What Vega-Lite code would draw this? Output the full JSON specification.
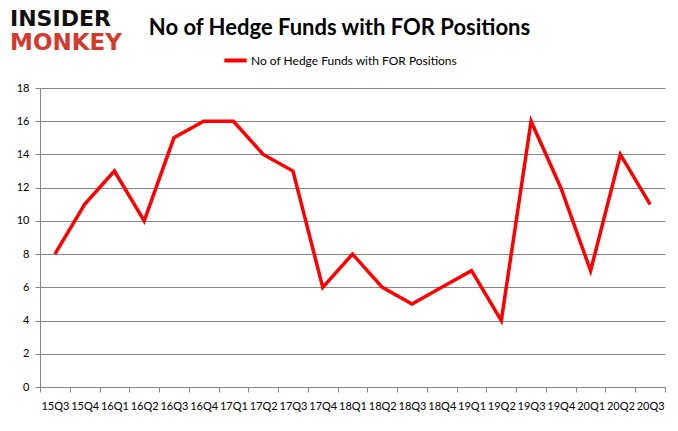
{
  "$schema": "https://vega.github.io/schema/vega-lite/v6.json",
  "autosize": "none",
  "width": 625,
  "height": 299,
  "padding": {"left": 40, "top": 88, "right": 13, "bottom": 44},
  "background": "white",
  "title": {
    "text": "No of Hedge Funds with FOR Positions",
    "font": "Lato",
    "fontSize": 22,
    "fontWeight": "bold",
    "color": "#000000",
    "anchor": "middle",
    "frame": "group",
    "dx": -13,
    "offset": -32
  },
  "data": {
    "values": [
      {"q": "15Q3", "v": 8, "s": "No of Hedge Funds with FOR Positions"},
      {"q": "15Q4", "v": 11, "s": "No of Hedge Funds with FOR Positions"},
      {"q": "16Q1", "v": 13, "s": "No of Hedge Funds with FOR Positions"},
      {"q": "16Q2", "v": 10, "s": "No of Hedge Funds with FOR Positions"},
      {"q": "16Q3", "v": 15, "s": "No of Hedge Funds with FOR Positions"},
      {"q": "16Q4", "v": 16, "s": "No of Hedge Funds with FOR Positions"},
      {"q": "17Q1", "v": 16, "s": "No of Hedge Funds with FOR Positions"},
      {"q": "17Q2", "v": 14, "s": "No of Hedge Funds with FOR Positions"},
      {"q": "17Q3", "v": 13, "s": "No of Hedge Funds with FOR Positions"},
      {"q": "17Q4", "v": 6, "s": "No of Hedge Funds with FOR Positions"},
      {"q": "18Q1", "v": 8, "s": "No of Hedge Funds with FOR Positions"},
      {"q": "18Q2", "v": 6, "s": "No of Hedge Funds with FOR Positions"},
      {"q": "18Q3", "v": 5, "s": "No of Hedge Funds with FOR Positions"},
      {"q": "18Q4", "v": 6, "s": "No of Hedge Funds with FOR Positions"},
      {"q": "19Q1", "v": 7, "s": "No of Hedge Funds with FOR Positions"},
      {"q": "19Q2", "v": 4, "s": "No of Hedge Funds with FOR Positions"},
      {"q": "19Q3", "v": 16, "s": "No of Hedge Funds with FOR Positions"},
      {"q": "19Q4", "v": 12, "s": "No of Hedge Funds with FOR Positions"},
      {"q": "20Q1", "v": 7, "s": "No of Hedge Funds with FOR Positions"},
      {"q": "20Q2", "v": 14, "s": "No of Hedge Funds with FOR Positions"},
      {"q": "20Q3", "v": 11, "s": "No of Hedge Funds with FOR Positions"}
    ]
  },
  "layer": [
    {
      "mark": {"type": "line", "strokeWidth": 3.5, "strokeJoin": "miter", "clip": false},
      "encoding": {
        "x": {
          "field": "q",
          "type": "ordinal",
          "sort": null,
          "bandPosition": 0.5,
          "scale": {"type": "band", "paddingInner": 0, "paddingOuter": 0},
          "axis": {
            "title": null,
            "labelAngle": 0,
            "labelFont": "Lato",
            "labelFontSize": 11,
            "labelColor": "#000000",
            "labelPadding": 8,
            "domainColor": "#868686",
            "domainWidth": 1,
            "tickColor": "#868686",
            "tickSize": 5,
            "tickBand": "extent",
            "grid": false
          }
        },
        "y": {
          "field": "v",
          "type": "quantitative",
          "scale": {"domain": [0, 18], "nice": false},
          "axis": {
            "title": null,
            "values": [0, 2, 4, 6, 8, 10, 12, 14, 16, 18],
            "labelFont": "Lato",
            "labelFontSize": 11,
            "labelColor": "#000000",
            "labelPadding": 6,
            "domainColor": "#868686",
            "tickColor": "#868686",
            "tickSize": 5,
            "gridColor": "#868686",
            "gridWidth": 1
          }
        },
        "color": {
          "field": "s",
          "type": "nominal",
          "scale": {"range": ["#FF0000"]},
          "legend": {
            "title": null,
            "orient": "none",
            "legendX": 182,
            "legendY": -41,
            "symbolType": "stroke",
            "symbolStrokeWidth": 4,
            "symbolSize": 500,
            "labelFont": "Lato",
            "labelFontSize": 12,
            "labelColor": "#000000",
            "labelOffset": 2,
            "labelLimit": 0
          }
        }
      }
    },
    {
      "data": {"values": [{"t": "INSIDER"}]},
      "mark": {"type": "text", "x": -30, "y": -69, "align": "left", "baseline": "middle", "font": "DejaVu Sans", "fontWeight": "bold", "fontSize": 22, "color": "#111111"},
      "encoding": {"text": {"field": "t"}}
    },
    {
      "data": {"values": [{"t": "MONKEY"}]},
      "mark": {"type": "text", "x": -30, "y": -45, "align": "left", "baseline": "middle", "font": "DejaVu Sans", "fontWeight": "bold", "fontSize": 23, "color": "#D33A2C"},
      "encoding": {"text": {"field": "t"}}
    }
  ],
  "config": {
    "view": {"stroke": null},
    "axis": {"labelFlush": false}
  }
}
